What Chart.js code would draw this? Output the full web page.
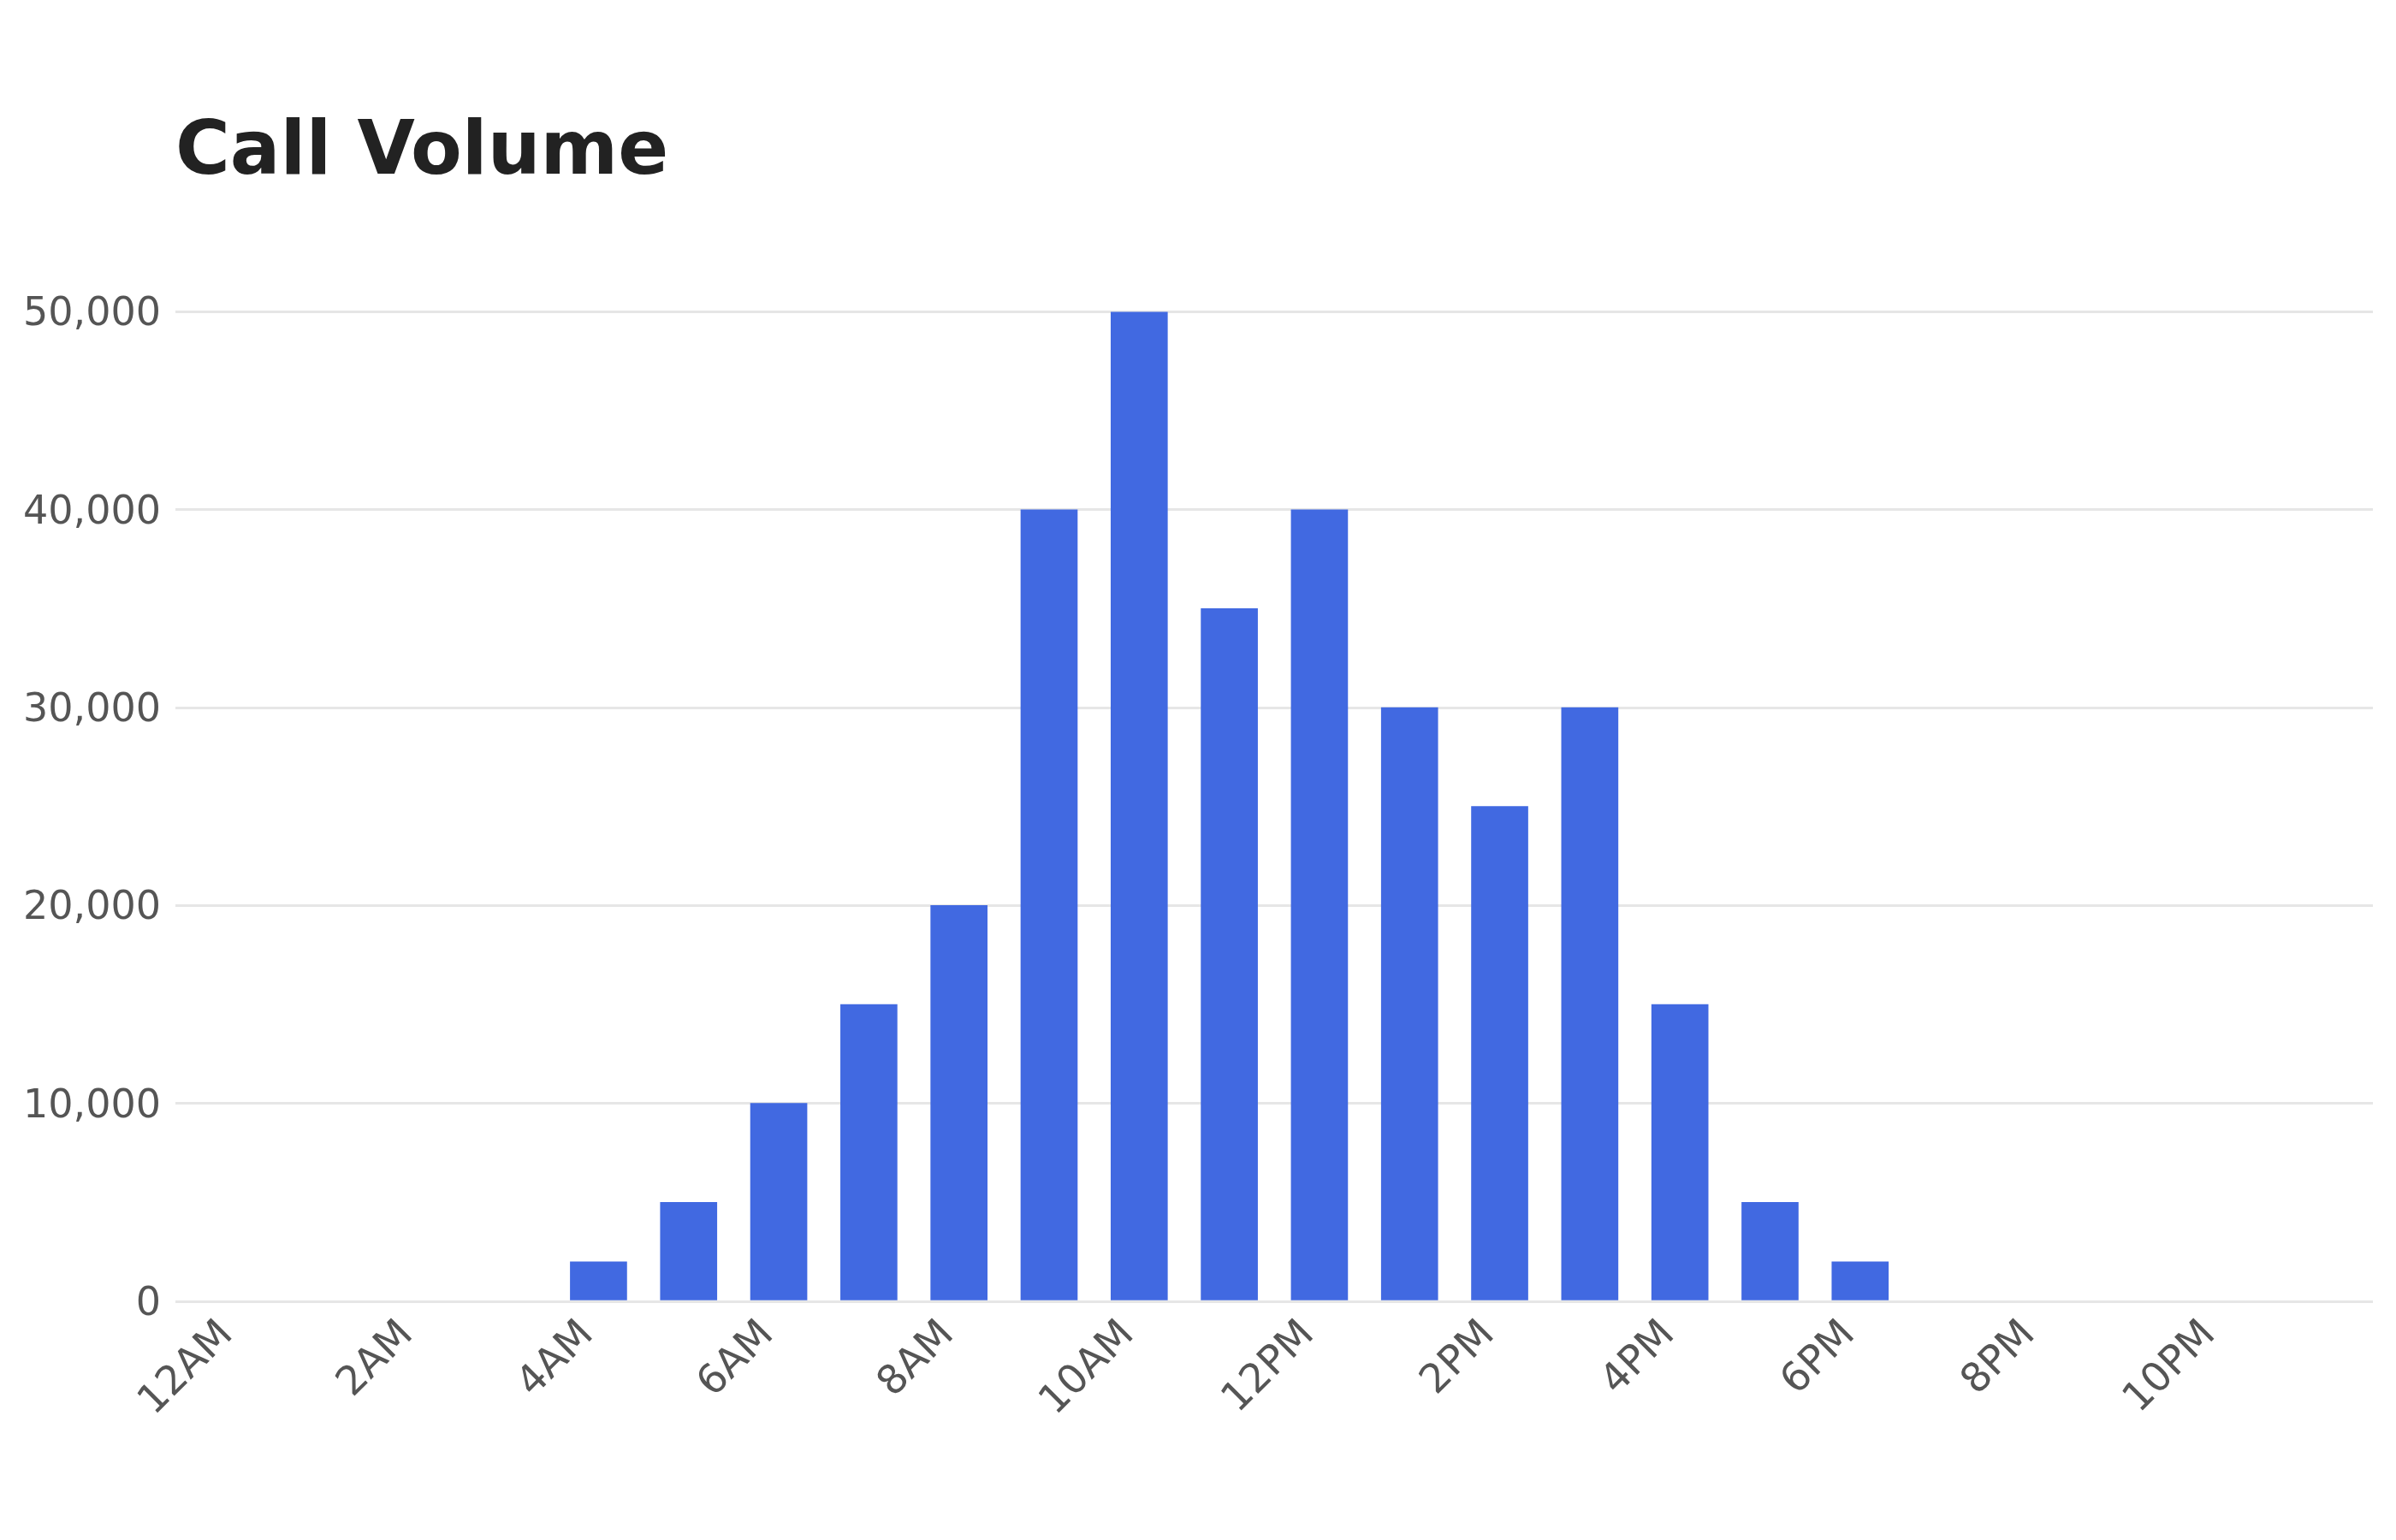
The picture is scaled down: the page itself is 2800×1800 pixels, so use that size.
<!DOCTYPE html>
<html>
<head>
<meta charset="utf-8">
<script src="https://cdn.jsdelivr.net/npm/chart.js@4.4.1/dist/chart.umd.min.js"></script>
<style>
  html, body { margin: 0; padding: 0; background: #ffffff; }
  #wrap { width: 2800px; height: 1800px; position: relative; }
</style>
</head>
<body>
<div id="wrap"><canvas id="callChart" width="2800" height="1800"></canvas></div>
<script>
const hours = [0, 1, 2, 3, 4, 5, 6, 7, 8, 9, 10, 11, 12, 13, 14, 15, 16, 17, 18, 19, 20, 21, 22, 23];
const hourLabels = ['12AM', '1AM', '2AM', '3AM', '4AM', '5AM', '6AM', '7AM', '8AM', '9AM', '10AM', '11AM',
                    '12PM', '1PM', '2PM', '3PM', '4PM', '5PM', '6PM', '7PM', '8PM', '9PM', '10PM', '11PM'];
const callVolume = [0, 0, 0, 0, 2000, 5000, 10000, 15000, 20000, 40000, 50000, 35000,
                    40000, 30000, 25000, 30000, 15000, 5000, 2000, 0, 0, 0, 0, 0];
const xTickHours = [0, 2, 4, 6, 8, 10, 12, 14, 16, 18, 20, 22];
const yTicks = [0, 10000, 20000, 30000, 40000, 50000];

const FONT = "'DejaVu Sans', sans-serif";
const BAR_COLOR = '#4169E1';

window.onload = () => {
    const ctx = document.getElementById('callChart').getContext('2d');
    new Chart(ctx, {
        type: 'bar',
        data: {
            datasets: [{
                label: 'Call Volume',
                data: hours.map((h, i) => ({ x: h, y: callVolume[i] })),
                // empty hours get no visible sliver
                backgroundColor: c => (c.raw && c.raw.y === 0) ? 'rgba(0,0,0,0)' : BAR_COLOR,
                borderWidth: 0,
                barThickness: 66,
            }]
        },
        options: {
            responsive: false,
            animation: false,
            devicePixelRatio: 1,
            layout: { padding: { top: 0, right: 27, bottom: 0, left: 0 } },
            plugins: {
                legend: { display: false },
                tooltip: { enabled: false },
                title: {
                    display: true,
                    text: 'Call Volume',
                    align: 'start',
                    fullSize: false,
                    color: '#222222',
                    font: { family: FONT, size: 87, weight: 'bold', lineHeight: 1.2 },
                    padding: { top: 128, bottom: 132 }
                }
            },
            scales: {
                x: {
                    type: 'linear',
                    offset: false,
                    min: -0.695,
                    max: 23.69,
                    grid: { display: false, drawTicks: false },
                    border: { display: false },
                    afterBuildTicks: scale => {
                        scale.ticks = xTickHours.map(v => ({ value: v }));
                    },
                    afterFit: scale => { scale.height = 279; },
                    ticks: {
                        autoSkip: false,
                        minRotation: 45,
                        maxRotation: 45,
                        padding: 12,
                        labelOffset: -13,
                        color: '#555555',
                        font: { family: FONT, size: 47 },
                        callback: v => hourLabels[hours.indexOf(v)]
                    }
                },
                y: {
                    min: 0,
                    max: 50000,
                    grid: { color: '#e6e6e6', lineWidth: 3, drawTicks: false },
                    border: { display: false },
                    afterBuildTicks: scale => {
                        scale.ticks = yTicks.map(v => ({ value: v }));
                    },
                    afterFit: scale => { scale.width = 205; },
                    ticks: {
                        padding: 17,
                        labelOffset: 4,
                        color: '#555555',
                        font: { family: FONT, size: 46 },
                        callback: v => v.toLocaleString('en-US')
                    }
                }
            }
        }
    });
};
</script>
</body>
</html>
